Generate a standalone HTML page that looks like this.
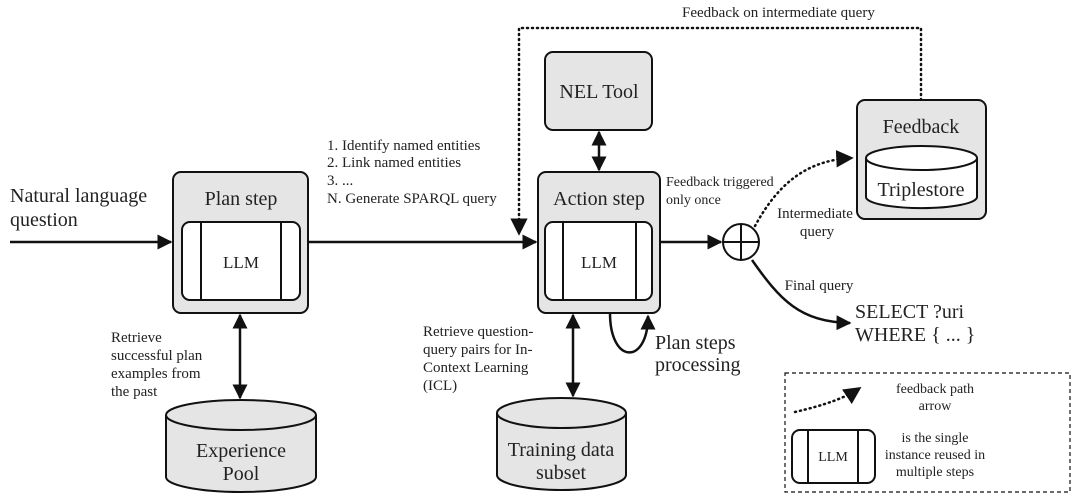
<!DOCTYPE html>
<html><head><meta charset="utf-8"><style>
html,body{margin:0;padding:0;background:#fff}
svg{display:block}
text{font-family:"Liberation Serif","DejaVu Serif",serif;fill:#222}
</style></head><body>
<svg width="1079" height="500" viewBox="0 0 1079 500" xmlns="http://www.w3.org/2000/svg">
<defs>
<marker id="a" viewBox="0 0 10 10" refX="9" refY="5" markerWidth="6" markerHeight="6" orient="auto-start-reverse"><path d="M0,0L10,5L0,10z" fill="#111"/></marker>
<marker id="b" viewBox="0 0 10 10" refX="9" refY="5" markerWidth="7" markerHeight="7" orient="auto-start-reverse"><path d="M0,0L10,5L0,10z" fill="#111"/></marker>
</defs>
<g stroke="#111" stroke-width="2.5" fill="none">
<line x1="10" y1="242" x2="171" y2="242" marker-end="url(#a)"/>
<line x1="308" y1="242" x2="536" y2="242" marker-end="url(#a)"/>
<line x1="660" y1="242" x2="721" y2="242" marker-end="url(#a)"/>
<line x1="599" y1="132" x2="599" y2="170" marker-start="url(#a)" marker-end="url(#a)"/>
<line x1="240" y1="315" x2="240" y2="398" marker-start="url(#a)" marker-end="url(#a)"/>
<line x1="573" y1="315" x2="573" y2="396" marker-start="url(#a)" marker-end="url(#a)"/>
<path d="M610,313 C610,365 648,365 648,316" marker-end="url(#a)"/>
<path d="M752,260 C780,300 800,322 850,323" marker-end="url(#a)"/>
</g>
<g stroke="#111" stroke-width="2.5" fill="none" stroke-dasharray="1 4" stroke-linecap="round">
<path d="M921,100 L921,28 L519,28 L519,234" marker-end="url(#b)"/>
<path d="M755,226 C780,180 810,160 852,158" marker-end="url(#b)"/>
<path d="M795,412 C825,405 845,398 860,388" marker-end="url(#b)"/>
</g>
<g stroke="#111" stroke-width="2" fill="#e5e5e5">
<rect x="173" y="172" width="135" height="141" rx="8"/>
<rect x="538" y="172" width="122" height="141" rx="8"/>
<rect x="545" y="52" width="107" height="78" rx="8"/>
<rect x="857" y="100" width="129" height="119" rx="8"/>
</g>
<g stroke="#111" stroke-width="2" fill="#fff">
<rect x="182" y="222" width="118" height="78" rx="8"/>
<line x1="201" y1="222" x2="201" y2="300"/><line x1="281" y1="222" x2="281" y2="300"/>
<rect x="545" y="222" width="107" height="78" rx="8"/>
<line x1="563" y1="222" x2="563" y2="300"/><line x1="636" y1="222" x2="636" y2="300"/>
<rect x="792" y="430" width="83" height="53" rx="8"/>
<line x1="808" y1="430" x2="808" y2="483"/><line x1="858" y1="430" x2="858" y2="483"/>
<path d="M866,158 L866,197 A55,11 0 0 0 977,197 L977,158"/>
<ellipse cx="921.5" cy="158" rx="55.5" ry="12"/>
<circle cx="741" cy="242" r="18"/>
<line x1="723" y1="242" x2="759" y2="242"/><line x1="741" y1="224" x2="741" y2="260"/>
</g>
<g stroke="#111" stroke-width="2" fill="#e5e5e5">
<path d="M166,415 L166,477 A75,15 0 0 0 316,477 L316,415"/>
<ellipse cx="241" cy="415" rx="75" ry="15"/>
<path d="M497,413 L497,475 A64.5,15 0 0 0 626,475 L626,413"/>
<ellipse cx="561.5" cy="413" rx="64.5" ry="15"/>
</g>
<rect x="785" y="373" width="285" height="119" fill="none" stroke="#111" stroke-width="1.2" stroke-dasharray="4 3"/>
<g font-size="20">
<text x="10" y="202">Natural language</text>
<text x="10" y="226">question</text>
<text x="241" y="205" text-anchor="middle">Plan step</text>
<text x="599" y="205" text-anchor="middle">Action step</text>
<text x="599" y="98" text-anchor="middle">NEL Tool</text>
<text x="921" y="133" text-anchor="middle">Feedback</text>
<text x="921" y="196" text-anchor="middle">Triplestore</text>
<text x="241" y="457" text-anchor="middle">Experience</text>
<text x="241" y="480" text-anchor="middle">Pool</text>
<text x="561" y="456" text-anchor="middle">Training data</text>
<text x="561" y="479" text-anchor="middle">subset</text>
<text x="655" y="349">Plan steps</text>
<text x="655" y="371">processing</text>
<text x="855" y="318">SELECT ?uri</text>
<text x="855" y="341">WHERE { ... }</text>
</g>
<g font-size="17">
<text x="241" y="268" text-anchor="middle">LLM</text>
<text x="599" y="268" text-anchor="middle">LLM</text>
</g>
<g font-size="15">
<text x="833" y="461" text-anchor="middle" font-size="14">LLM</text>
<text x="327" y="150">1. Identify named entities</text>
<text x="327" y="167">2. Link named entities</text>
<text x="327" y="185">3. ...</text>
<text x="327" y="203">N. Generate SPARQL query</text>
<text x="666" y="186" font-size="14">Feedback triggered</text>
<text x="666" y="204" font-size="14">only once</text>
<text x="682" y="17">Feedback on intermediate query</text>
<text x="815" y="218" text-anchor="middle">Intermediate</text>
<text x="817" y="236" text-anchor="middle">query</text>
<text x="819" y="290" text-anchor="middle">Final query</text>
<text x="111" y="342">Retrieve</text>
<text x="111" y="360">successful plan</text>
<text x="111" y="378">examples from</text>
<text x="111" y="396">the past</text>
<text x="423" y="336">Retrieve question-</text>
<text x="423" y="354">query pairs for In-</text>
<text x="423" y="372">Context Learning</text>
<text x="423" y="390">(ICL)</text>
</g>
<g font-size="14">
<text x="935" y="393" text-anchor="middle">feedback path</text>
<text x="935" y="410" text-anchor="middle">arrow</text>
<text x="935" y="442" text-anchor="middle">is the single</text>
<text x="935" y="459" text-anchor="middle">instance reused in</text>
<text x="935" y="476" text-anchor="middle">multiple steps</text>
</g>
</svg>
</body></html>
